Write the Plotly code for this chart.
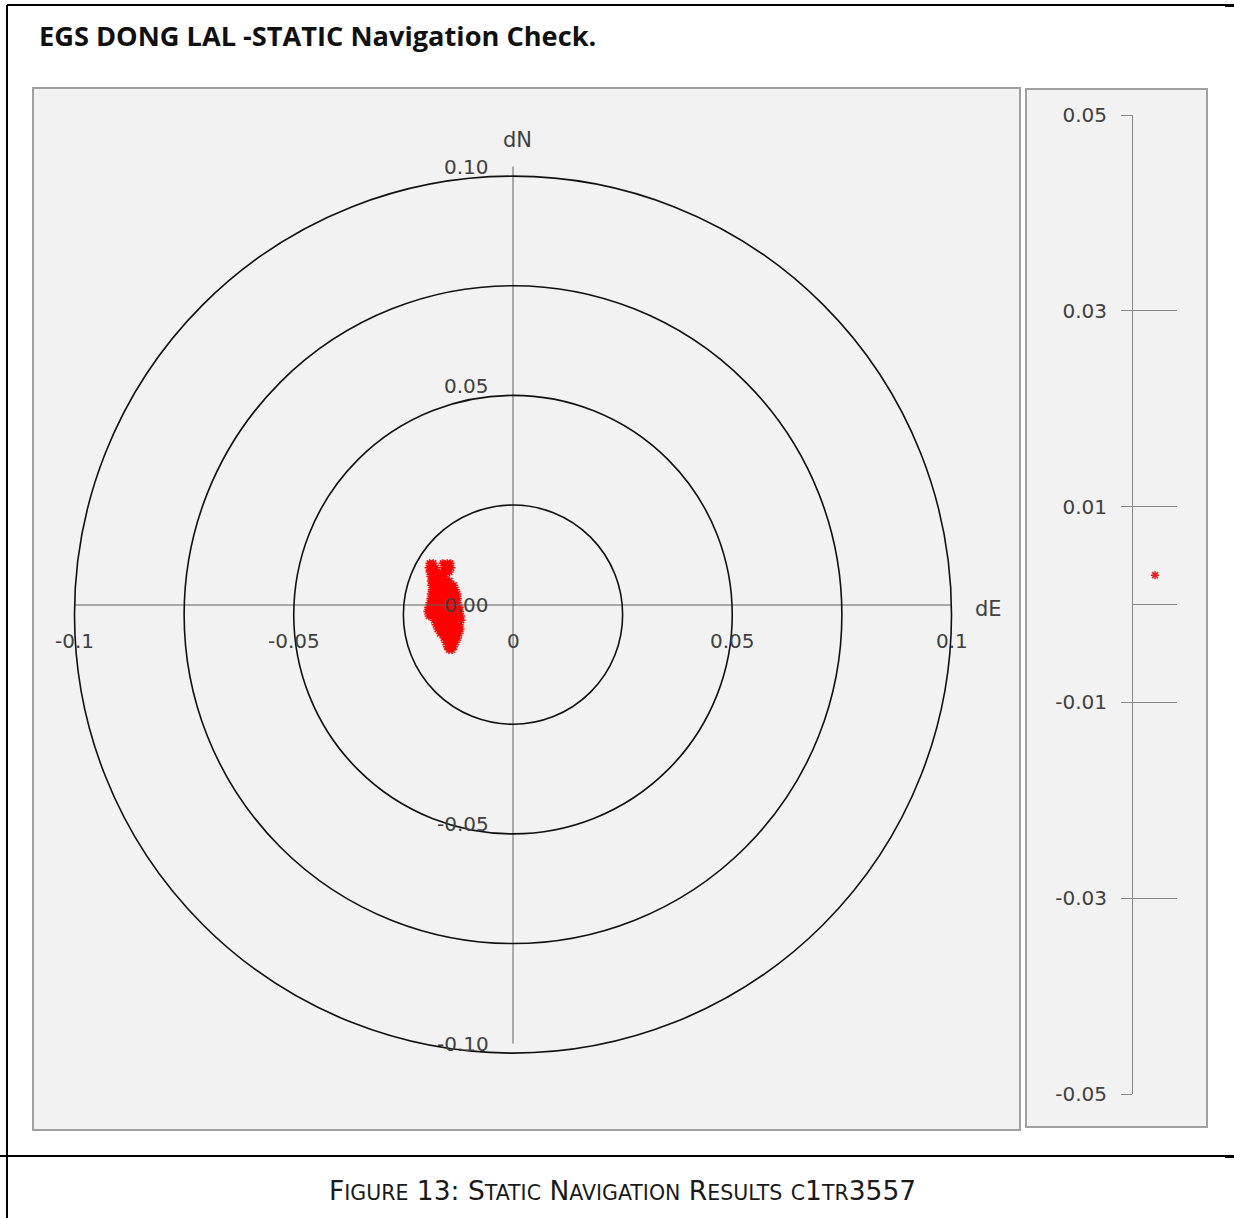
import plotly.graph_objects as go

# ---------------- data ----------------
title_text = "EGS DONG LAL -STATIC Navigation Check."
caption_html = ('F<span style="font-size:20.5px">IGURE</span> 13: '
                'S<span style="font-size:20.5px">TATIC</span> '
                'N<span style="font-size:20.5px">AVIGATION</span> '
                'R<span style="font-size:20.5px">ESULTS</span> '
                '<span style="font-size:20.5px">C</span>1<span style="font-size:20.5px">TR</span>3557')

ring_radii = [0.025, 0.05, 0.075, 0.10]
ring_center_dn = -0.0022

x_tick_values = [-0.1, -0.05, 0, 0.05, 0.1]
x_tick_labels = ["-0.1", "-0.05", "0", "0.05", "0.1"]
y_tick_values = [0.10, 0.05, 0.00, -0.05, -0.10]
y_tick_labels = ["0.10", "0.05", "0.00", "-0.05", "-0.10"]

# static position scatter (dE, dN) read row by row
dn_levels = [0.0095, 0.0085, 0.0075, 0.0065, 0.0055, 0.0045, 0.0035, 0.0025, 0.0015,
             0.0005, -0.0005, -0.0015, -0.0025, -0.0035, -0.0045, -0.0055, -0.0065,
             -0.0075, -0.0085, -0.0095, -0.0102]
de_by_level = [
    [-0.0190, -0.0182, -0.0160, -0.0150, -0.0143],
    [-0.0192, -0.0184, -0.0176, -0.0158, -0.0148, -0.0141],
    [-0.0190, -0.0182, -0.0174, -0.0162, -0.0152, -0.0145],
    [-0.0188, -0.0180, -0.0171, -0.0163, -0.0155],
    [-0.0187, -0.0179, -0.0170, -0.0161, -0.0152, -0.0145],
    [-0.0186, -0.0178, -0.0169, -0.0160, -0.0151, -0.0142, -0.0135],
    [-0.0185, -0.0176, -0.0167, -0.0158, -0.0149, -0.0140, -0.0131],
    [-0.0187, -0.0178, -0.0169, -0.0160, -0.0151, -0.0142, -0.0133, -0.0127],
    [-0.0188, -0.0179, -0.0170, -0.0161, -0.0152, -0.0143, -0.0134, -0.0126],
    [-0.0190, -0.0181, -0.0172, -0.0163, -0.0154, -0.0145, -0.0136, -0.0127],
    [-0.0193, -0.0184, -0.0175, -0.0166, -0.0157, -0.0148, -0.0139, -0.0130, -0.0122],
    [-0.0195, -0.0186, -0.0177, -0.0168, -0.0159, -0.0150, -0.0141, -0.0132, -0.0121],
    [-0.0192, -0.0183, -0.0174, -0.0165, -0.0156, -0.0147, -0.0138, -0.0129, -0.0119],
    [-0.0180, -0.0171, -0.0162, -0.0153, -0.0144, -0.0135, -0.0126, -0.0118],
    [-0.0176, -0.0167, -0.0158, -0.0149, -0.0140, -0.0131, -0.0122],
    [-0.0172, -0.0163, -0.0154, -0.0145, -0.0136, -0.0127, -0.0120],
    [-0.0166, -0.0157, -0.0148, -0.0139, -0.0130, -0.0123],
    [-0.0158, -0.0150, -0.0141, -0.0132, -0.0126],
    [-0.0154, -0.0146, -0.0138, -0.0130],
    [-0.0150, -0.0142, -0.0135],
    [-0.0146, -0.0139],
]

# height check
dh_index = [1]
dh_values = [0.003]
dh_tick_values = [-0.05, -0.03, -0.01, 0.01, 0.03, 0.05]
dh_tick_labels = ["-0.05", "-0.03", "-0.01", "0.01", "0.03", "0.05"]

# ---------------- layout helpers ----------------
W, H = 1234, 1218
def px(x):
    return x / W
def py(y):
    return 1 - y / H

S = 4385.0          # pixels per unit in main chart
CX, CY = 513, 605   # pixel position of origin
MAIN_L, MAIN_R, MAIN_T, MAIN_B = 33, 1020, 88, 1130

de_points, dn_points = [], []
for lvl, row in zip(dn_levels, de_by_level):
    for v in row:
        de_points.append(v)
        dn_points.append(lvl)

fig = go.Figure()

fig.add_trace(go.Scatter(
    x=de_points, y=dn_points, mode="markers", xaxis="x", yaxis="y",
    marker=dict(symbol="asterisk", size=7, color="#ff0000",
                line=dict(color="#ff0000", width=1.5)),
    showlegend=False, hoverinfo="skip"))

fig.add_trace(go.Scatter(
    x=dh_index, y=dh_values, mode="markers", xaxis="x2", yaxis="y2",
    marker=dict(symbol="asterisk", size=7, color="#e02020",
                line=dict(color="#e02020", width=1.5)),
    showlegend=False, hoverinfo="skip"))

shapes = []
# page lines
shapes.append(dict(type="line", xref="paper", yref="paper", x0=px(7), x1=1, y0=py(5), y1=py(5),
                   line=dict(color="black", width=2)))
shapes.append(dict(type="line", xref="paper", yref="paper", x0=px(1225), x1=1, y0=py(5.5), y1=py(5.5),
                   line=dict(color="black", width=3)))
shapes.append(dict(type="line", xref="paper", yref="paper", x0=px(7), x1=px(7), y0=py(5), y1=0,
                   line=dict(color="black", width=2)))
shapes.append(dict(type="line", xref="paper", yref="paper", x0=px(0), x1=1, y0=py(1156), y1=py(1156),
                   line=dict(color="black", width=2)))
shapes.append(dict(type="line", xref="paper", yref="paper", x0=px(1225), x1=1, y0=py(1156.5), y1=py(1156.5),
                   line=dict(color="black", width=3)))
# panels
shapes.append(dict(type="rect", xref="paper", yref="paper", layer="below",
                   x0=px(MAIN_L), x1=px(MAIN_R), y0=py(MAIN_B), y1=py(MAIN_T),
                   fillcolor="#f2f2f2", line=dict(color="#a0a0a0", width=2)))
shapes.append(dict(type="rect", xref="paper", yref="paper", layer="below",
                   x0=px(1026), x1=px(1207), y0=py(1127), y1=py(89),
                   fillcolor="#f2f2f2", line=dict(color="#a0a0a0", width=2)))
# main axes lines
shapes.append(dict(type="line", xref="x", yref="y", x0=-0.1, x1=0.1, y0=0, y1=0,
                   line=dict(color="#606060", width=1)))
shapes.append(dict(type="line", xref="x", yref="y", x0=0, x1=0, y0=-0.1, y1=0.1,
                   line=dict(color="#606060", width=1)))
# rings
for r in ring_radii:
    shapes.append(dict(type="circle", xref="x", yref="y",
                       x0=-r, x1=r, y0=ring_center_dn - r, y1=ring_center_dn + r,
                       line=dict(color="#111111", width=1.6)))

label_font = dict(family="DejaVu Sans", size=20, color="#404040")
annotations = []
for v, t in zip(x_tick_values, x_tick_labels):
    annotations.append(dict(x=v, y=0, xref="x", yref="y", text=t, showarrow=False,
                            xanchor="center", yanchor="middle", yshift=-36, font=label_font))
for v, t in zip(y_tick_values, y_tick_labels):
    annotations.append(dict(x=0, y=v, xref="x", yref="y", text=t, showarrow=False,
                            xanchor="right", yanchor="middle", xshift=-22, font=label_font))
annotations.append(dict(x=0, y=0.1, xref="x", yref="y", text="dN", showarrow=False,
                        xanchor="center", yanchor="middle", yshift=27, xshift=4,
                        font=dict(family="DejaVu Sans", size=21, color="#404040")))
annotations.append(dict(x=0.1, y=0, xref="x", yref="y", text="dE", showarrow=False,
                        xanchor="left", yanchor="middle", xshift=21, yshift=-4,
                        font=dict(family="DejaVu Sans", size=21, color="#404040")))
annotations.append(dict(x=px(37), y=py(35), xref="paper", yref="paper", text="<b>" + title_text + "</b>",
                        showarrow=False, xanchor="left", yanchor="middle",
                        font=dict(family="Open Sans", size=27.2, color="#111111")))
annotations.append(dict(x=px(622), y=py(1190), xref="paper", yref="paper", text=caption_html,
                        showarrow=False, xanchor="center", yanchor="middle",
                        font=dict(family="DejaVu Sans", size=26.5, color="#1a1a1a")))

fig.update_layout(
    width=W, height=H, autosize=False,
    margin=dict(l=0, r=0, t=0, b=0, pad=0, autoexpand=False),
    paper_bgcolor="white", plot_bgcolor="rgba(0,0,0,0)",
    xaxis=dict(domain=[px(MAIN_L), px(MAIN_R)],
               range=[(MAIN_L - CX) / S, (MAIN_R - CX) / S],
               visible=False, showgrid=False, zeroline=False, fixedrange=True, automargin=False),
    yaxis=dict(domain=[py(MAIN_B), py(MAIN_T)],
               range=[(CY - MAIN_B) / S, (CY - MAIN_T) / S],
               visible=False, showgrid=False, zeroline=False, fixedrange=True, automargin=False),
    xaxis2=dict(domain=[px(1133), px(1177)], range=[0, 2], anchor="y2",
                visible=False, showgrid=False, zeroline=False, automargin=False),
    yaxis2=dict(domain=[py(1094), py(115)], range=[-0.05, 0.05], anchor="x2",
                tickvals=dh_tick_values, ticktext=dh_tick_labels,
                ticks="outside", ticklen=11, tickcolor="#888888", tickwidth=1,
                showline=True, linecolor="#888888", linewidth=1,
                showgrid=True, gridcolor="#888888", gridwidth=1,
                zeroline=True, zerolinecolor="#888888", zerolinewidth=1,
                ticklabelstandoff=10, automargin=False,
                tickfont=dict(family="DejaVu Sans", size=20, color="#404040")),
    shapes=shapes, annotations=annotations, showlegend=False,
)

fig.write_html("out.html")
